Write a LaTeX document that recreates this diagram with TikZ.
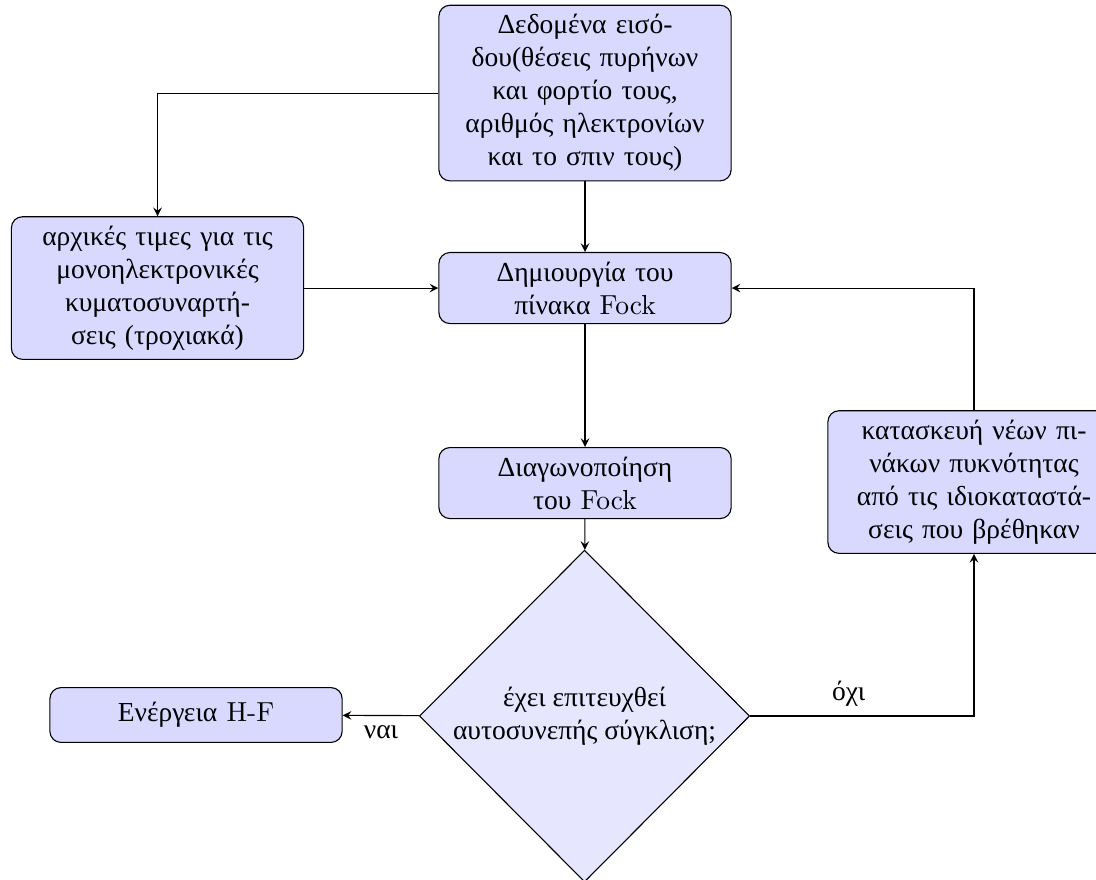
\documentclass[tikz,border=0pt]{standalone}
\usepackage{fontspec}
\setmainfont{Liberation Serif}
\newfontfamily\lmfont{Latin Modern Roman}
\usetikzlibrary{shapes.geometric,arrows}
\definecolor{StepFill}{HTML}{D9D9FF}
\definecolor{TestFill}{HTML}{E6E6FF}
\newcommand{\Lat}[1]{{\lmfont #1}}

\begin{document}
\begin{tikzpicture}[
    >=stealth,
    stepbox/.style={
      rectangle, rounded corners, draw=black, fill=StepFill,
      text width=3.5cm, minimum height=0.7cm, align=center,
      font=\fontsize{10}{12}\selectfont
    },
    testbox/.style={
      diamond, aspect=1, draw=black, fill=TestFill, inner sep=0pt,
      minimum width=4.22cm, minimum height=4.24cm, align=center,
      font=\fontsize{10}{12}\selectfont
    },
    flow/.style={->, draw=black},
    lbl/.style={font=\fontsize{10}{12}\selectfont}
  ]

  \useasboundingbox (0,0) rectangle (14.006,-11.233);

  % main column
  \node[stepbox] (input) at (7.476,-1.189)
    {Δεδομένα εισό-\\δου(θέσεις πυρήνων\\και φορτίο τους,\\αριθμός ηλεκτρονίων\\και το σπιν τους)};
  \node[stepbox] (fock) at (7.476,-3.681)
    {Δημιουργία του\\πίνακα \Lat{Fock}};
  \node[stepbox] (diag) at (7.476,-6.173)
    {Διαγωνοποίηση\\του \Lat{Fock}};
  \node[testbox] (check) at (7.47,-9.15)
    {έχει επιτευχθεί\\αυτοσυνεπής σύγκλιση;};

  % side boxes
  \node[stepbox] (init) at (2.013,-3.681)
    {αρχικές τιμες για τις\\μονοηλεκτρονικές\\κυματοσυναρτή-\\σεις (τροχιακά)};
  \node[stepbox] (dens) at (12.447,-6.16)
    {κατασκευή νέων πι-\\νάκων πυκνότητας\\από τις ιδιοκαταστά-\\σεις που βρέθηκαν};
  \node[stepbox] (energy) at (2.505,-9.137)
    {Ενέργεια \Lat{H-F}};

  % connectors
  \draw[flow] (input.west) -| (init.north);
  \draw[flow] (input) -- (fock);
  \draw[flow] (init) -- (fock);
  \draw[flow] (fock) -- (diag);
  \draw[flow] (diag) -- (check);
  \draw[flow] (check) -- node[lbl, below] {ναι} (energy);
  \draw[flow] (check.east) -| node[lbl, pos=0.22, above] {όχι} (dens.south);
  \draw[flow] (dens.north) |- (fock.east);

\end{tikzpicture}
\end{document}
